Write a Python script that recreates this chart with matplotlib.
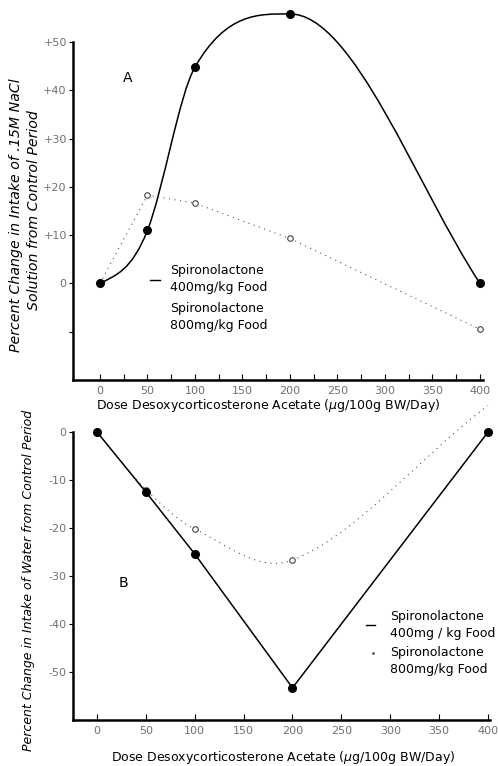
import matplotlib.pyplot as plt
from matplotlib.path import Path
from matplotlib.patches import PathPatch

dose = [0, 50, 100, 200, 400]

# A: .15M NaCl intake, % change from control
nacl_400 = [0, 11, 44.8, 55.8, 0]
nacl_800 = [0, 18.3, 16.6, 9.3, -9.5]
# B: water intake, % change from control
water_400 = [0, -12.5, -25.4, -53.3, 0]
water_800 = [0, -12, -20.2, -26.7, 5.5]

# tangent of the hand drawn curves at each dose
nacl_400_slope = [0.1, 0.5, 0.34, 0.0, -0.3]
water_800_slope = [-0.24, -0.2, -0.1, 0.08, 0.15]

x_ticks = [0, 50, 100, 150, 200, 250, 300, 350, 400]
x_ticklabels = ["0", "50", "100", "150", "200", "250", "300", "350", "400"]
a_yticks = [-10, 0, 10, 20, 30, 40, 50]
a_yticklabels = ["", "0", "+10", "+20", "+30", "+40", "+50"]
b_yticks = [0, -10, -20, -30, -40, -50]
b_yticklabels = ["0", "-10", "-20", "-30", "-40", "-50"]

xlabel = "Dose Desoxycorticosterone Acetate ($\\mu$g/100g BW/Day)"
leg_400 = "Spironolactone\n400mg/kg Food"
leg_800 = "Spironolactone\n800mg/kg Food"

W, H = 498, 766
TICK_GRAY = "#707070"


def fx(px):
    return px / W


def fy(py):
    return 1 - py / H


def hermite_path(xs, ys, slopes):
    # cubic pieces through the points, written as bezier segments
    verts = [(xs[0], ys[0])]
    codes = [Path.MOVETO]
    for i in range(len(xs) - 1):
        h = xs[i + 1] - xs[i]
        verts.append((xs[i] + h / 3, ys[i] + slopes[i] * h / 3))
        verts.append((xs[i + 1] - h / 3, ys[i + 1] - slopes[i + 1] * h / 3))
        verts.append((xs[i + 1], ys[i + 1]))
        codes += [Path.CURVE4] * 3
    return Path(verts, codes)


def style_axes(ax):
    ax.spines["top"].set_visible(False)
    ax.spines["right"].set_visible(False)
    ax.spines["left"].set_linewidth(1.8)
    ax.spines["bottom"].set_linewidth(1.8)
    ax.set_xticks(x_ticks)
    ax.set_xticklabels(x_ticklabels)
    ax.tick_params(axis="x", direction="in", length=4, width=0.8, pad=4,
                   labelsize=8, labelcolor=TICK_GRAY)
    ax.tick_params(axis="y", direction="out", length=3, width=0.8, pad=1.5,
                   labelsize=8, labelcolor=TICK_GRAY)


fig = plt.figure(figsize=(W / 100, H / 100), dpi=100)

# ---- panel A ----
axA = fig.add_axes([fx(73), fy(380), fx(483) - fx(73), fy(3.3) - fy(380)])
axA.set_xlim(-28.4, 403.2)
axA.set_ylim(-20, 58)
style_axes(axA)
axA.spines["left"].set_bounds(-20, 50)
axA.set_yticks(a_yticks)
axA.set_yticklabels(a_yticklabels)
axA.set_xticks(range(25, 400, 50), minor=True)
axA.tick_params(axis="x", which="minor", direction="in", length=4, width=0.8)

axA.plot(dose, nacl_800, color="#555555", lw=0.8, ls=(0, (1, 4)),
         marker="o", ms=4, mfc="white", mec="#444444", mew=0.8, clip_on=False)
axA.add_patch(PathPatch(hermite_path(dose, nacl_400, nacl_400_slope),
                        fill=False, lw=1.1, ec="black", clip_on=False))
axA.plot(dose, nacl_400, ls="none", marker="o", ms=5.5, color="black",
         clip_on=False)

# ---- panel B ----
axB = fig.add_axes([fx(73), fy(720), fx(490) - fx(73), fy(403.2) - fy(720)])
axB.set_xlim(-24.5, 402)
axB.set_ylim(-60, 6)
style_axes(axB)
axB.spines["left"].set_bounds(-60, 0)
axB.set_yticks(b_yticks)
axB.set_yticklabels(b_yticklabels)

axB.add_patch(PathPatch(hermite_path(dose, water_800, water_800_slope),
                        fill=False, lw=0.8, ec="#555555", ls=(0, (1, 4)),
                        clip_on=False))
axB.plot(dose[:-1], water_800[:-1], ls="none", marker="o", ms=4,
         mfc="white", mec="#444444", mew=0.8)
axB.plot(dose, water_400, color="black", lw=1.1, marker="o", ms=5.5,
         clip_on=False)

# ---- texts ----
fig.text(fx(268), fy(405), xlabel, ha="center", va="center", fontsize=9)
fig.text(fx(283), fy(758), xlabel, ha="center", va="center", fontsize=9)

fig.text(fx(16), fy(215), "Percent Change in Intake of .15M NaCl",
         rotation=90, ha="center", va="center", fontsize=10.2, style="italic")
fig.text(fx(34), fy(210), "Solution from Control Period",
         rotation=90, ha="center", va="center", fontsize=10.2, style="italic")
fig.text(fx(29), fy(580), "Percent Change in Intake of Water from Control Period",
         rotation=90, ha="center", va="center", fontsize=9, style="italic")

fig.text(fx(128), fy(78), "A", ha="center", va="center", fontsize=10)
fig.text(fx(123), fy(583), "B", ha="center", va="center", fontsize=10)

# legends
fig.add_artist(plt.Line2D([fx(150), fx(160)], [fy(280), fy(280)],
                          color="black", lw=1))
fig.text(fx(170), fy(279), leg_400, ha="left", va="center", fontsize=9,
         linespacing=1.35)
fig.text(fx(170), fy(317), leg_800, ha="left", va="center", fontsize=9,
         linespacing=1.35)

fig.add_artist(plt.Line2D([fx(366), fx(375)], [fy(625), fy(625)],
                          color="black", lw=1))
fig.text(fx(390), fy(625), leg_400.replace("mg/kg", "mg / kg"), ha="left",
         va="center", fontsize=9, linespacing=1.35)
fig.add_artist(plt.Line2D([fx(373)], [fy(653)], marker=".", ms=2,
                          color="#555555", ls="none"))
fig.text(fx(390), fy(661), leg_800, ha="left", va="center", fontsize=9,
         linespacing=1.35)

fig.savefig("out.png", dpi=100)
